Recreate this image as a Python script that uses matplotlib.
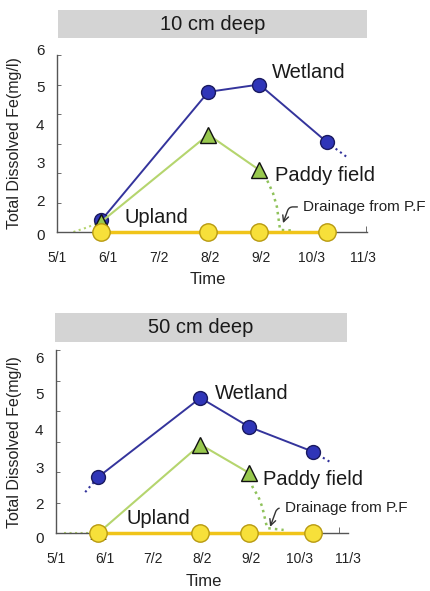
import matplotlib
matplotlib.use("Agg")
import matplotlib.pyplot as plt
from matplotlib.patches import Rectangle

plt.rcParams['font.family'] = ['Liberation Sans', 'DejaVu Sans']

# days counted from 5/1
tick_days = [0, 31, 62, 93, 124, 155, 186]
tick_labels = ['5/1', '6/1', '7/2', '8/2', '9/2', '10/3', '11/3']
y_labels = ['0', '2', '3', '4', '5', '6']

sample_days = [27, 92, 123, 164]

# 10 cm deep
wet10 = [0.4, 4.75, 5.0, 3.05]
paddy10 = [0.35, 3.3, 2.1]
upland10 = [0, 0, 0, 0]
wet10_tail = ([164, 176], [3.05, 2.55])
paddy10_head = ([10, 18, 27], [0.0, 0.15, 0.35])
paddy10_drain = ([123, 127.7, 131.3, 133.7, 135.6, 143], [2.1, 1.76, 1.32, 0.85, 0.07, 0.05])
ylab10_pos = [-0.1, 1.08, 2.37, 3.63, 4.92, 6.17]

# 50 cm deep
wet50 = [1.84, 4.43, 3.48, 2.66]
paddy50 = [0.0, 2.9, 1.97]
upland50 = [0, 0, 0, 0]
wet50_head = ([18.6, 27], [1.34, 1.84])
wet50_tail = ([164, 175.5], [2.66, 2.3])
paddy50_head = ([5, 27], [0.0, 0.0])
paddy50_drain = ([123, 125.2, 129, 131.4, 134.5, 145], [1.97, 1.51, 1.18, 0.85, 0.16, 0.1])
ylab50_pos = [-0.16, 0.98, 2.16, 3.38, 4.59, 5.77]

W, H = 431, 591
fig = plt.figure(figsize=(W / 100, H / 100), dpi=100)

c_wet = '#34349c'
c_wet_face = '#2f35b8'
c_paddy = '#b5d56e'
c_paddy_face = '#98c84e'
c_up = '#f0c419'
c_up_face = '#f7e03a'


def panel(rect, xmax, wet, paddy, upland, wet_head, wet_tail, paddy_head, paddy_drain,
          ylab_pos, labels_at, drain_text, drain_head, drain_tail):
    ax = fig.add_axes(rect)
    ax.set_xlim(0, xmax)
    ax.set_ylim(-0.2, 6.2)
    for s in ['top', 'right']:
        ax.spines[s].set_visible(False)
    ax.spines['left'].set_bounds(0, 6)
    ax.spines['bottom'].set_position(('data', 0))
    for s in ['left', 'bottom']:
        ax.spines[s].set_color('#555555')
        ax.spines[s].set_linewidth(1.0)

    ax.set_xticks(tick_days)
    ax.set_xticklabels(tick_labels, fontsize=10, color='#222222')
    ax.tick_params(axis='x', length=0, pad=14)
    ax.set_xticks([xmax - 0.5], minor=True)
    ax.tick_params(axis='x', which='minor', direction='in', length=4, color='#555555')

    ax.set_yticks(ylab_pos)
    ax.set_yticklabels(y_labels, fontsize=11, color='#222222')
    ax.tick_params(axis='y', length=0, pad=9)
    ax.set_yticks(range(0, 7), minor=True)
    ax.tick_params(axis='y', which='minor', direction='in', length=3, color='#555555')

    if wet_head is not None:
        ax.plot(*wet_head, ':', color=c_wet, lw=1.5)
    ax.plot(*wet_tail, ':', color=c_wet, lw=1.5)
    ax.plot(*paddy_head, ':', color=c_paddy, lw=1.5)
    ax.plot(*paddy_drain, ':', color='#8fc25a', lw=1.8)

    ax.plot(sample_days, wet, '-o', color=c_wet, lw=1.4, ms=10,
            mfc=c_wet_face, mec='#1a1a60', mew=1.0, zorder=3)
    ax.plot(sample_days[:len(paddy)], paddy, '-^', color=c_paddy, lw=1.5, ms=11,
            mfc=c_paddy_face, mec='#111111', mew=1.0, zorder=4)
    ax.plot(sample_days, upland, '-o', color=c_up, lw=2.5, ms=12.5,
            mfc=c_up_face, mec='#b89a10', mew=1.0, zorder=5, clip_on=False)

    for txt, (x, y) in labels_at.items():
        ax.text(x, y, txt, fontsize=14.5, ha='left', va='center', color='#1a1a1a')

    ax.annotate(drain_text, xy=drain_head, xytext=drain_tail, fontsize=11,
                ha='left', va='center', color='#222222',
                arrowprops=dict(arrowstyle='->', color='#333333', lw=1.0,
                                connectionstyle='angle,angleA=180,angleB=70,rad=4',
                                shrinkA=2, shrinkB=0))
    return ax


# top panel: day 0 at px 57, 1.645 px/day
l1 = 57
ax1 = panel([l1 / W, 1 - 237.9 / H, (367 - l1) / W, (237.9 - 49.1) / H], (367 - l1) / 1.645,
            wet10, paddy10, upland10, None, wet10_tail, paddy10_head, paddy10_drain,
            ylab10_pos,
            {'Wetland': (130.7, 5.42), 'Paddy field': (132.5, 1.93), 'Upland': (41.3, 0.5)},
            'Drainage from P.F', (137.4, 0.3), (149.5, 0.85))

# bottom panel: day 0 at px 56, 1.613 px/day, 30.5 px per unit
l2 = 56
ax2 = panel([l2 / W, 1 - (533 + 6.1) / H, (348 - l2) / W, (183 + 12.2) / H], (348 - l2) / 1.613,
            wet50, paddy50, upland50, wet50_head, wet50_tail, paddy50_head, paddy50_drain,
            ylab50_pos,
            {'Wetland': (101, 4.59), 'Paddy field': (132, 1.74), 'Upland': (44.6, 0.49)},
            'Drainage from P.F', (136.4, 0.2), (145.7, 0.82))

# title bars
for (x0, x1, y0, y1, txt) in [(58, 367, 10, 38, '10 cm deep'), (55, 347, 313, 342, '50 cm deep')]:
    fig.patches.append(Rectangle((x0 / W, 1 - y1 / H), (x1 - x0) / W, (y1 - y0) / H,
                                 transform=fig.transFigure, facecolor='#d4d4d4',
                                 edgecolor='none'))
    fig.text((x0 + x1) / 2 / W, 1 - (y0 + y1) / 2 / H, txt, fontsize=14.5,
             ha='center', va='center', color='#1a1a1a')

# axis titles
for yc, tx, ty in [(143, 208, 280), (442, 204, 582)]:
    fig.text(15 / W, 1 - yc / H, 'Total Dissolved Fe(mg/l)', rotation=90, fontsize=11.5,
             ha='center', va='center', color='#222222')
    fig.text(tx / W, 1 - ty / H, 'Time', fontsize=12, ha='center', va='center',
             color='#222222')

fig.savefig('out.png', dpi=100, facecolor='white')
